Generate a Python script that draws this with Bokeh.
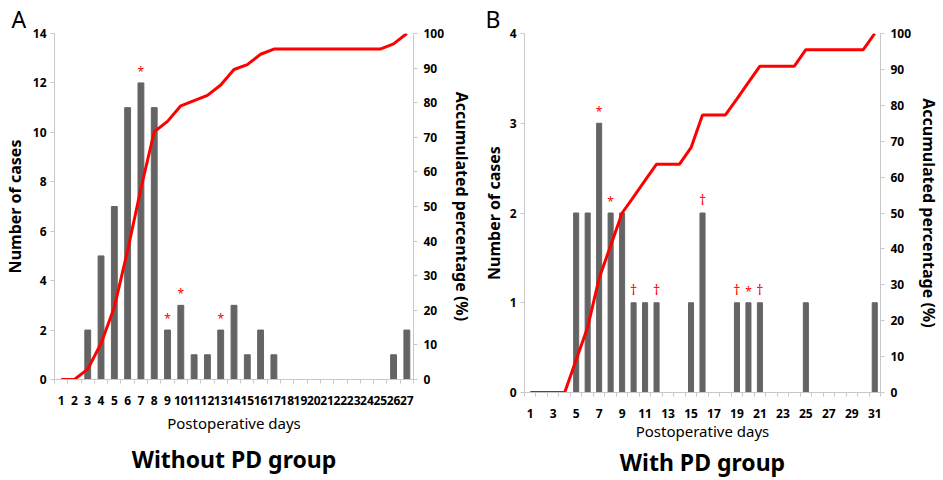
from bokeh.plotting import figure
from bokeh.models import Range1d, LinearAxis, FixedTicker, Title
from bokeh.layouts import row, column
from bokeh.embed import file_html
from bokeh.resources import INLINE
from bokeh.core.properties import value

# ---- Panel A: without PD group ----
days_a = list(range(1, 28))
cases_a = [0, 0, 2, 5, 7, 11, 12, 11, 2, 3, 1, 1, 2, 3, 1, 2, 1, 0, 0, 0, 0, 0, 0, 0, 0, 1, 2]
cum_pct_a = [0, 0, 3.0, 10.4, 20.9, 37.3, 55.2, 71.6, 74.6, 79.1, 80.6, 82.1, 85.1, 89.6,
             91.0, 94.0, 95.5, 95.5, 95.5, 95.5, 95.5, 95.5, 95.5, 95.5, 95.5, 97.0, 100]
star_days_a = [7, 9, 10, 13]
yticks_a = [0, 2, 4, 6, 8, 10, 12, 14]
xlabels_a = days_a

# ---- Panel B: with PD group ----
days_b = list(range(1, 32))
cases_b = [0, 0, 0, 0, 2, 2, 3, 2, 2, 1, 1, 1, 0, 0, 1, 2, 0, 0, 1, 1, 1, 0, 0, 0, 1, 0, 0, 0, 0, 0, 1]
cum_pct_b = [0, 0, 0, 0, 9.1, 18.2, 31.8, 40.9, 50.0, 54.5, 59.1, 63.6, 63.6, 63.6, 68.2, 77.3,
             77.3, 77.3, 81.8, 86.4, 90.9, 90.9, 90.9, 90.9, 95.5, 95.5, 95.5, 95.5, 95.5, 95.5, 100]
star_days_b = [7, 8, 20]
dagger_days_b = [10, 12, 16, 19, 21]
yticks_b = [0, 1, 2, 3, 4]
xlabels_b = list(range(1, 32, 2))

pct_ticks = list(range(0, 101, 10))

FONT = "Noto Sans"
AXIS_COLOR = "#c8c8c8"
BAR_COLOR = "#646464"
RED = "#ff0000"
HEIGHT = 480


def style_axis(ax, label, bold, size):
    ax.axis_line_color = AXIS_COLOR
    ax.axis_label = label
    ax.axis_label_text_font = FONT
    ax.axis_label_text_font_size = size
    ax.axis_label_text_font_style = "bold" if bold else "normal"
    ax.axis_label_text_color = "black"
    ax.major_label_text_font = FONT
    ax.major_label_text_font_style = "bold"
    ax.major_label_text_color = "black"


def make_panel(days, cases, cum, ymax, yticks, xlabels, marks, letter, title,
               width, border_l, border_r, frame_bottom, ylab_standoff,
               xlab_standoff, title_standoff, letter_off):
    p = figure(width=width, height=HEIGHT, output_backend="svg", toolbar_location=None,
               x_range=Range1d(0.5, len(days) + 0.5), y_range=Range1d(0, ymax),
               min_border_left=border_l, min_border_right=border_r,
               min_border_top=33, min_border_bottom=HEIGHT - frame_bottom)
    p.outline_line_color = None
    p.grid.visible = False
    p.background_fill_color = "white"
    p.border_fill_color = "white"
    p.extra_y_ranges = {"pct": Range1d(0, 100)}

    p.vbar(x=days, top=cases, width=0.44, color=BAR_COLOR)
    p.line(x=days, y=cum, y_range_name="pct", color=RED, line_width=3)

    case_of = dict(zip(days, cases))
    for sym, dlist, fs, off in marks:
        p.text(x=dlist, y=[case_of[d] for d in dlist], text=[sym] * len(dlist),
               text_color=RED, text_font_size=fs, text_align="center",
               text_baseline="bottom", y_offset=off, text_font=value(FONT))

    # x axis
    xa = p.xaxis[0]
    style_axis(xa, "Postoperative days", False, "15px")
    xa.ticker = FixedTicker(ticks=xlabels, minor_ticks=[d + 0.5 for d in [0] + days])
    xa.major_tick_out = 0
    xa.major_tick_in = 0
    xa.minor_tick_out = 4
    xa.minor_tick_in = 0
    xa.minor_tick_line_color = AXIS_COLOR
    xa.axis_label_standoff = xlab_standoff
    xa.major_label_text_font_size = "12px"
    xa.major_label_standoff = 12

    # group title as an outer, tick-less axis label
    ga = LinearAxis(ticker=FixedTicker(ticks=[]))
    ga.axis_line_color = None
    ga.major_tick_line_color = None
    ga.minor_tick_line_color = None
    ga.major_tick_out = 0
    ga.minor_tick_out = 0
    ga.major_label_text_font_size = "0px"
    ga.major_label_standoff = 0
    ga.axis_label = title
    ga.axis_label_text_font = FONT
    ga.axis_label_text_font_size = "23px"
    ga.axis_label_text_font_style = "bold"
    ga.axis_label_text_color = "black"
    ga.axis_label_standoff = title_standoff
    p.add_layout(ga, "below")

    # left axis
    ya = p.yaxis[0]
    style_axis(ya, "Number of cases", True, "16px")
    ya.ticker = FixedTicker(ticks=yticks)
    ya.minor_tick_out = 0
    ya.minor_tick_in = 0
    ya.major_tick_out = 4
    ya.major_tick_in = 0
    ya.major_tick_line_color = AXIS_COLOR
    ya.axis_label_standoff = ylab_standoff
    ya.major_label_text_font_size = "12px"
    ya.major_label_standoff = 4

    # right axis
    ra = LinearAxis(y_range_name="pct", ticker=FixedTicker(ticks=pct_ticks))
    style_axis(ra, "Accumulated percentage (%)", True, "16px")
    ra.minor_tick_out = 0
    ra.minor_tick_in = 0
    ra.major_tick_out = 4
    ra.major_tick_in = 0
    ra.major_tick_line_color = AXIS_COLOR
    ra.axis_label_standoff = 4
    ra.major_label_text_font_size = "12px"
    ra.major_label_standoff = 6
    p.add_layout(ra, "right")

    p.add_layout(Title(text=letter, align="left", offset=letter_off, text_font=FONT,
                       text_font_size="23px", text_font_style="normal",
                       text_color="black", standoff=-2), "above")
    return p


pa = make_panel(days_a, cases_a, cum_pct_a, 14, yticks_a, xlabels_a,
                [("*", star_days_a, "12px", -3)], "A", "Without PD group",
                476, 53, 476 - 415, 379, 4, 5, 7, -43)
pb = make_panel(days_b, cases_b, cum_pct_b, 4, yticks_b, xlabels_b,
                [("*", star_days_b, "12px", -3), ("\u2020", dagger_days_b, "14px", -4)],
                "B", "With PD group",
                467, 524 - 476, 467 - (883 - 476), 392, 2, 0, 2, -39)

layout = row(column(pa), column(pb))
open("out.html", "w").write(file_html(layout, INLINE))
